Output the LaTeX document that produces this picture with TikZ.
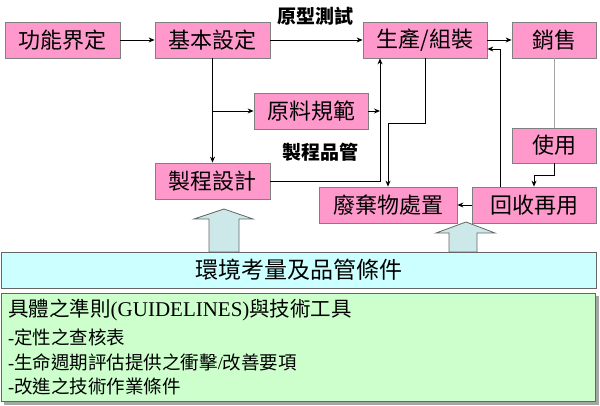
\documentclass[tikz,border=0pt]{standalone}
\usepackage{fontspec}
\setmainfont{Liberation Serif}
\newfontfamily\cjk{Noto Sans CJK TC}
\usetikzlibrary{arrows.meta}
\definecolor{pinkc}{HTML}{FF99CC}
\definecolor{bluec}{HTML}{CCFFFF}
\definecolor{greenc}{HTML}{CCFFCC}
\definecolor{arrowc}{HTML}{CCE8E8}
\definecolor{edgec}{HTML}{808080}
\begin{document}
\begin{tikzpicture}[x=1pt,y=-1pt,
  box/.style={draw=edgec, line width=0.8pt, fill=pinkc, minimum height=36pt, inner sep=0pt,
    font=\cjk\fontsize{22}{24}\selectfont},
  conn/.style={draw=black, line width=0.9pt, -{Stealth[length=6pt,width=5pt]}},
  plain/.style={draw=gray!70, line width=0.8pt},
  lbl/.style={font=\cjk\bfseries\fontsize{19}{21}\selectfont, inner sep=0pt},
  bigarrow/.style={fill=arrowc, draw=gray!80!black, line width=0.8pt},
  gtext/.style={anchor=west, inner sep=0pt, font=\fontsize{18.5}{20}\selectfont}]
\useasboundingbox (0,0) rectangle (600,406);

% boxes
\node[box, minimum width=115pt] (f1) at (62.5,40) {功能界定};
\node[box, minimum width=115pt] (f2) at (212.5,40) {基本設定};
\node[box, minimum width=114pt] (f3) at (311,111) {原料規範};
\node[box, minimum width=115pt] (f4) at (212.5,181) {製程設計};
\node[box, minimum width=124pt] (f5) at (425,40) {生產/組裝};
\node[box, minimum width=84pt] (f6) at (554,40) {銷售};
\node[box, minimum width=84pt, minimum height=35pt] (f7) at (554,145.5) {使用};
\node[box, minimum width=138pt] (f8) at (388,205) {廢棄物處置};
\node[box, minimum width=124pt] (f9) at (534,205) {回收再用};

% labels
\node[lbl] (l1) at (315,16) {原型測試};
\node[lbl] (l2) at (320,152) {製程品管};

% helper coordinates
\coordinate (qa) at (380,181);
\coordinate (pb) at (388,123);
\coordinate (rc) at (500,49);

% connectors
\draw[conn] (f1) -- (f2);
\draw[conn] (f2) -- (f5);
\draw[conn] (f2.south) -- (f4.north);
\draw[conn] (f3.west -| f2.south) -- (f3.west);
\draw[conn] (f3.east) -- (f3.east -| qa);
\draw[conn] (f4.east |- qa) -- (qa) -- (qa |- f5.south);
\draw[conn] (f5.south) |- (pb) -- (f8.north);
\draw[conn] (f5) -- (f6);
\draw[plain] (f6) -- (f7);
\draw[conn] (f7.south) -- ++(0,12) -| (f9.north);
\draw[conn] (rc |- f9.north) -- (rc) -- (rc -| f5.east);
\draw[conn] (f9) -- (f8);

% big arrows
\draw[bigarrow] (209,252) -- (209,219) -- (194,219) -- (224,209) -- (253,219) -- (239,219) -- (239,252) -- cycle;
\draw[bigarrow] (449,252) -- (449,233) -- (436,233) -- (466,222) -- (495,233) -- (477,233) -- (477,252) -- cycle;

% blue band
\node[draw=gray!80!black, line width=0.8pt, fill=bluec, minimum width=595pt, minimum height=36pt,
  inner sep=0pt, font=\cjk\fontsize{23}{25}\selectfont] (band) at (298.5,270) {環境考量及品管條件};

% green box with shadow
\fill[gray!70] (4,296) rectangle (599,405);
\draw[draw=gray!80!black, line width=0.8pt, fill=greenc] (1,293) rectangle (595,401);
\node[gtext] (g1) at (8,310) {{\cjk\fontsize{20.5}{22}\selectfont 具體之準則}{\fontsize{21}{23}\selectfont(GUIDELINES)}{\cjk\fontsize{20.5}{22}\selectfont 與技術工具}};
\node[gtext] (g2) at (8,337) {-{\cjk 定性之查核表}};
\node[gtext] (g3) at (8,362) {-{\cjk 生命週期評估提供之衝擊}/{\cjk 改善要項}};
\node[gtext] (g4) at (8,386) {-{\cjk 改進之技術作業條件}};
\end{tikzpicture}
\end{document}
